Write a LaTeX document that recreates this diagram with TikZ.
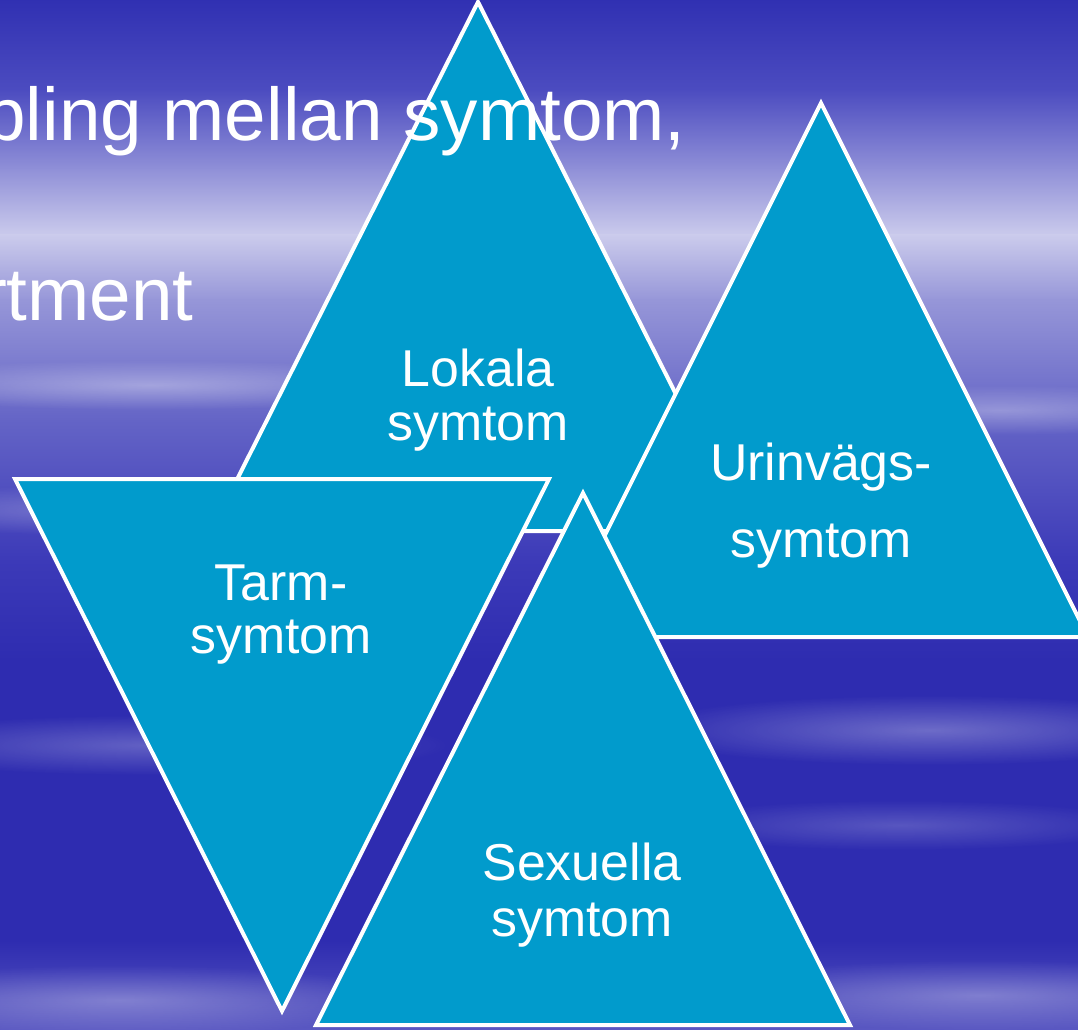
\documentclass[tikz,border=0pt]{standalone}
\usepackage{fontspec}
\setmainfont{Liberation Sans}
\usetikzlibrary{fadings}
\definecolor{tricol}{RGB}{1,155,204}
\definecolor{bgA}{RGB}{48,48,178}
\definecolor{bgB}{RGB}{76,76,192}
\definecolor{bgC}{RGB}{145,145,216}
\definecolor{bgD}{RGB}{203,203,236}
\definecolor{bgE}{RGB}{150,150,216}
\definecolor{bgF}{RGB}{100,100,198}
\definecolor{bgG}{RGB}{60,58,184}
\definecolor{bgH}{RGB}{46,44,176}
\definecolor{bgI}{RGB}{90,88,194}
\tikzfading[name=fuzz, inner color=transparent!0, outer color=transparent!100]
\tikzset{
  trishape/.style={fill=tricol, draw=white, line width=0.08cm, line join=miter},
  lbl/.style={text=white, font=\fontsize{29.5pt}{30pt}\selectfont, inner sep=0pt, anchor=base},
  bigtext/.style={text=white, font=\fontsize{42.5pt}{44pt}\selectfont, inner sep=0pt, anchor=base east},
  streak/.style={fill=white, path fading=fuzz}
}
\begin{document}
\begin{tikzpicture}[x=0.02cm,y=-0.02cm]
\useasboundingbox (0,0) rectangle (1078,1030);
\clip (0,0) rectangle (1078,1030);
% background
\shade[top color=bgA, bottom color=bgB] (0,-1) rectangle (1078,91);
\shade[top color=bgB, bottom color=bgC] (0,90) rectangle (1078,171);
\shade[top color=bgC, bottom color=bgD] (0,170) rectangle (1078,236);
\shade[top color=bgD, bottom color=bgE] (0,235) rectangle (1078,301);
\shade[top color=bgE, bottom color=bgF] (0,300) rectangle (1078,421);
\shade[top color=bgF, bottom color=bgG] (0,420) rectangle (1078,561);
\shade[top color=bgG, bottom color=bgH] (0,560) rectangle (1078,661);
\fill[bgH] (0,660) rectangle (1078,941);
\shade[top color=bgH, bottom color=bgI] (0,940) rectangle (1078,1031);
% soft streaks
\fill[streak, opacity=0.35] (150,385) ellipse (6cm and 0.5cm);
\fill[streak, opacity=0.3] (1000,410) ellipse (5cm and 0.5cm);
\fill[streak, opacity=0.25] (100,510) ellipse (5cm and 0.5cm);
\fill[streak, opacity=0.3] (930,730) ellipse (6cm and 0.7cm);
\fill[streak, opacity=0.25] (150,745) ellipse (6cm and 0.6cm);
\fill[streak, opacity=0.2] (900,825) ellipse (5cm and 0.5cm);
\fill[streak, opacity=0.3] (120,1000) ellipse (6cm and 0.7cm);
\fill[streak, opacity=0.3] (980,995) ellipse (6cm and 0.7cm);
% triangles
\coordinate (L1) at (478,2);   \coordinate (L2) at (211,531); \coordinate (L3) at (745,531);
\coordinate (U1) at (821,103); \coordinate (U2) at (554,637); \coordinate (U3) at (1088,637);
\coordinate (T1) at (15,479);  \coordinate (T2) at (549,479); \coordinate (T3) at (282,1011);
\coordinate (S1) at (583,493); \coordinate (S2) at (316,1025); \coordinate (S3) at (850,1025);
\path[trishape] (L1) -- (L2) -- (L3) -- cycle;
\path[trishape] (U1) -- (U2) -- (U3) -- cycle;
\path[trishape] (T1) -- (T2) -- (T3) -- cycle;
\path[trishape] (S1) -- (S2) -- (S3) -- cycle;
% labels
\node[lbl] (lokA) at (478,386) {Lokala};
\node[lbl] (lokB) at (478,440) {symtom};
\node[lbl] (uriA) at (821,480) {Urinvägs-};
\node[lbl] (uriB) at (821,557) {symtom};
\node[lbl] (tarA) at (281,600) {Tarm-};
\node[lbl] (tarB) at (281,653) {symtom};
\node[lbl] (sexA) at (582,880) {Sexuella};
\node[lbl] (sexB) at (582,936) {symtom};
% title text fragments
\node[bigtext] (titA) at (686,141) {pling mellan symtom,};
\node[bigtext] (titB) at (194,321) {rtment};
\end{tikzpicture}
\end{document}
